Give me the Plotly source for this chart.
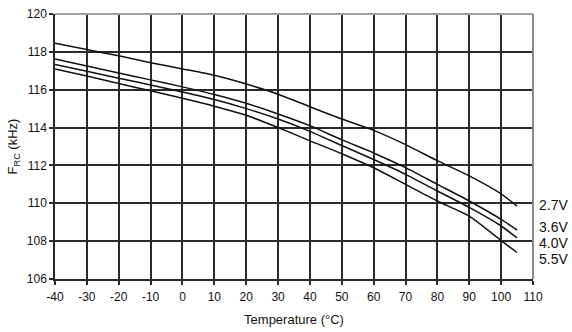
import plotly.graph_objects as go

# Temperature points (°C)
temperature = [-40, -30, -20, -10, 0, 10, 20, 30, 40, 50, 60, 70, 80, 90, 100, 105]

# RC oscillator frequency (kHz) for each supply voltage
f_27v = [118.46, 118.12, 117.79, 117.43, 117.10, 116.76, 116.30, 115.76, 115.10, 114.45, 113.85, 113.10, 112.25, 111.45, 110.50, 109.85]
f_36v = [117.62, 117.25, 116.88, 116.52, 116.15, 115.75, 115.28, 114.72, 114.10, 113.35, 112.66, 111.88, 111.00, 110.12, 109.15, 108.58]
f_40v = [117.33, 116.97, 116.61, 116.25, 115.88, 115.48, 115.00, 114.45, 113.80, 113.05, 112.31, 111.53, 110.65, 109.78, 108.80, 108.17]
f_55v = [117.10, 116.72, 116.33, 115.94, 115.55, 115.13, 114.65, 114.00, 113.30, 112.62, 111.88, 111.00, 110.12, 109.32, 108.03, 107.40]

series_names = ["2.7V", "3.6V", "4.0V", "5.5V"]
series_values = [f_27v, f_36v, f_40v, f_55v]
# Vertical positions (kHz) of the voltage labels to the right of the plot
label_levels = [109.91, 108.73, 107.90, 107.08]

x_ticks = list(range(-40, 111, 10))
y_ticks = list(range(106, 121, 2))

FONT = "Liberation Sans, Arial, sans-serif"
GRID = "#2a2a2a"

fig = go.Figure()
for name, vals in zip(series_names, series_values):
    fig.add_trace(go.Scatter(
        x=temperature, y=vals, mode="lines", name=name,
        line=dict(color="#111111", width=1.5, shape="spline", smoothing=0.6),
        showlegend=False,
    ))

for name, lvl in zip(series_names, label_levels):
    fig.add_annotation(
        x=1.008, xref="paper", y=lvl, yref="y", text=name,
        showarrow=False, xanchor="left", yanchor="middle",
        font=dict(family=FONT, size=14, color="#111111"),
    )

# Light grey frame on the top and right edges
fig.add_shape(type="line", xref="paper", yref="paper", x0=0, x1=1, y0=1, y1=1,
              line=dict(color="#a0a0a0", width=2), layer="above")
fig.add_shape(type="line", xref="paper", yref="paper", x0=1, x1=1, y0=0, y1=1,
              line=dict(color="#8a8a8a", width=2), layer="above")

fig.update_xaxes(
    range=[-40, 110], tickvals=x_ticks, ticktext=[str(v) for v in x_ticks],
    showgrid=True, gridcolor=GRID, gridwidth=1.5,
    showline=True, linecolor=GRID, linewidth=1.5,
    ticks="outside", ticklen=4, tickcolor=GRID, tickwidth=1.5,
    ticklabelstandoff=2,
    tickfont=dict(family=FONT, size=12, color="#111111"),
    title=dict(text="Temperature (°C)", font=dict(family=FONT, size=13, color="#111111"), standoff=12),
    zeroline=False,
)
fig.update_yaxes(
    range=[106, 120], tickvals=y_ticks, ticktext=[str(v) for v in y_ticks],
    showgrid=True, gridcolor=GRID, gridwidth=1.5,
    showline=True, linecolor=GRID, linewidth=1.5,
    ticks="outside", ticklen=4, tickcolor=GRID, tickwidth=1.5,
    tickfont=dict(family=FONT, size=12, color="#111111"),
    title=dict(text="F<sub>RC</sub> (kHz)", font=dict(family=FONT, size=13, color="#111111"), standoff=6),
    zeroline=False,
)

fig.update_layout(
    width=572, height=332,
    margin=dict(l=55, r=39, t=7, b=53),
    paper_bgcolor="white", plot_bgcolor="white",
)

fig.write_html("out.html")
